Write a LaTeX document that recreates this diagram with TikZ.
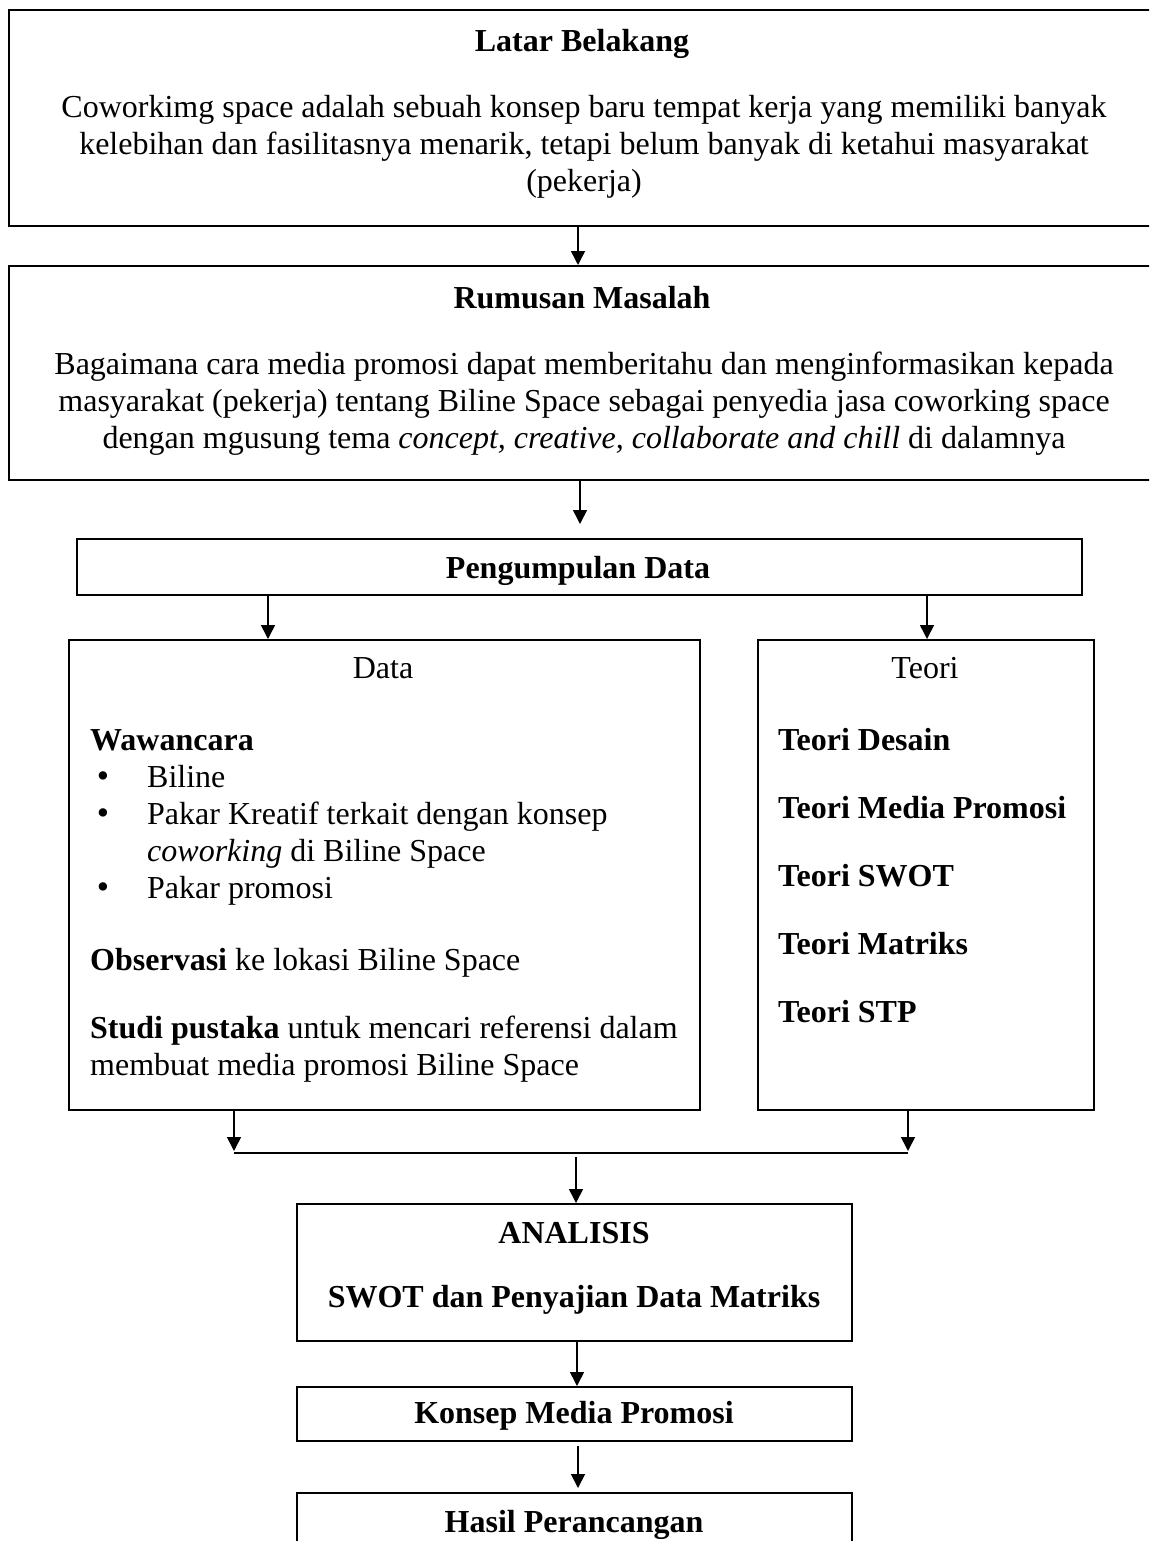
\documentclass[tikz,border=0pt]{standalone}
\usepackage{fontspec}
\setmainfont{Liberation Serif}
\usetikzlibrary{arrows.meta}
\begin{document}
\begin{tikzpicture}[x=1pt,y=-1pt,
  box/.style={draw, line width=1.6pt, inner sep=0pt, anchor=north west},
  arr/.style={-{Triangle[width=14pt,length=14pt]}, line width=1.6pt},
  conn/.style={line width=1.6pt},
  txt/.style={inner sep=0pt, anchor=base, font=\fontsize{32}{37}\selectfont},
  ltxt/.style={txt, anchor=base west},
  bul/.style={txt, font=\fontsize{35}{37}\selectfont},
  btxt/.style={txt, font=\fontsize{32}{37}\selectfont\bfseries}]
\useasboundingbox (0,0) rectangle (1149,1541);
\clip (0,0) rectangle (1149,1541);
\fill[white] (0,0) rectangle (1149,1541);

% boxes
\node[box, minimum width=1162pt, minimum height=216pt] (lb) at (8,9) {};
\node[box, minimum width=1162pt, minimum height=214pt] (rm) at (8,265) {};
\node[box, minimum width=1005pt, minimum height=56pt] (pd) at (76,538) {};
\node[box, minimum width=631pt, minimum height=470pt] (data) at (68,639) {};
\node[box, minimum width=336pt, minimum height=470pt] (teori) at (757,639) {};
\node[box, minimum width=555pt, minimum height=137pt] (ana) at (296,1203) {};
\node[box, minimum width=555pt, minimum height=54pt] (kmp) at (296,1386) {};
\node[box, minimum width=555pt, minimum height=120pt] (hp) at (296,1492) {};

% texts: Latar Belakang
\node[btxt] (lbt) at (582,52) {Latar Belakang};
\node[txt] (lb1) at (584,118) {Coworkimg space adalah sebuah konsep baru tempat kerja yang memiliki banyak};
\node[txt] (lb2) at (584,155) {kelebihan dan fasilitasnya menarik, tetapi belum banyak di ketahui masyarakat};
\node[txt] (lb3) at (584,192) {(pekerja)};

% Rumusan Masalah
\node[btxt] (rmt) at (582,308) {Rumusan Masalah};
\node[txt] (rm1) at (584,374) {Bagaimana cara media promosi dapat memberitahu dan menginformasikan kepada};
\node[txt] (rm2) at (584,411) {masyarakat (pekerja) tentang Biline Space sebagai penyedia jasa coworking space};
\node[txt] (rm3) at (584,448) {dengan mgusung tema \textit{concept, creative, collaborate and chill} di dalamnya};

% Pengumpulan Data
\node[btxt] (pdt) at (578,578) {Pengumpulan Data};

% Data
\node[txt] (dt) at (383,678) {Data};
\node[btxt, anchor=base west] (d1) at (90,750) {Wawancara};
\node[bul] (b1) at (103,787) {•};
\node[ltxt] (d2) at (147,787) {Biline};
\node[bul] (b2) at (103,824) {•};
\node[ltxt] (d3) at (147,824) {Pakar Kreatif terkait dengan konsep};
\node[ltxt] (d4) at (147,861) {\textit{coworking} di Biline Space};
\node[bul] (b3) at (103,898) {•};
\node[ltxt] (d5) at (147,898) {Pakar promosi};
\node[ltxt] (d6) at (90,970) {\textbf{Observasi} ke lokasi Biline Space};
\node[ltxt] (d7) at (90,1038) {\textbf{Studi pustaka} untuk mencari referensi dalam};
\node[ltxt] (d8) at (90,1075) {membuat media promosi Biline Space};

% Teori
\node[txt] (tt) at (925,678) {Teori};
\node[btxt, anchor=base west] (t1) at (778,750) {Teori Desain};
\node[btxt, anchor=base west] (t2) at (778,818) {Teori Media Promosi};
\node[btxt, anchor=base west] (t3) at (778,886) {Teori SWOT};
\node[btxt, anchor=base west] (t4) at (778,954) {Teori Matriks};
\node[btxt, anchor=base west] (t5) at (778,1022) {Teori STP};

% lower boxes
\node[btxt] (an1) at (574,1243) {ANALISIS};
\node[btxt] (an2) at (574,1307) {SWOT dan Penyajian Data Matriks};
\node[btxt] (kt) at (574,1423) {Konsep Media Promosi};
\node[btxt] (ht) at (574,1532) {Hasil Perancangan};

% connector coordinates
\coordinate (x1) at (578,0);
\coordinate (x2) at (580,0);
\coordinate (x3) at (268,0);
\coordinate (x4) at (927,0);
\coordinate (jl) at (234,1153);
\coordinate (jr) at (908,1153);
\coordinate (jm) at (576,1157);
\coordinate (x5) at (577,0);
\coordinate (x6) at (578,0);

\draw[arr] (lb.south -| x1) -- (rm.north -| x1);
\draw[arr] (rm.south -| x2) -- ([yshift=14pt]pd.north -| x2);
\draw[arr] (pd.south -| x3) -- (data.north -| x3);
\draw[arr] (pd.south -| x4) -- (teori.north -| x4);
\draw[arr] (data.south -| jl) -- ([yshift=2pt]jl);
\draw[arr] (teori.south -| jr) -- ([yshift=2pt]jr);
\draw[conn] (jl) -- (jr);
\draw[arr] (jm) -- (ana.north -| jm);
\draw[arr] (ana.south -| x5) -- (kmp.north -| x5);
\draw[arr] ([yshift=-4pt]kmp.south -| x6) -- ([yshift=4pt]hp.north -| x6);
\end{tikzpicture}
\end{document}
